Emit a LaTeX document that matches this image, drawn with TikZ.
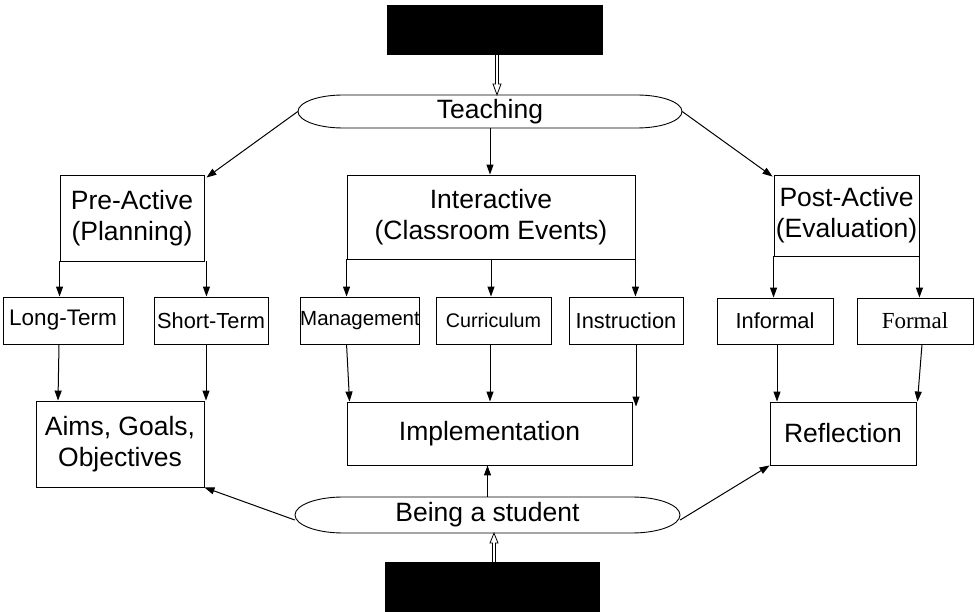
\documentclass[tikz,border=0pt]{standalone}
\usepackage{fontspec}
\setmainfont{Liberation Sans}
\newfontfamily\serifed{Liberation Serif}
\usetikzlibrary{arrows.meta,calc}
\begin{document}
\begin{tikzpicture}[x=1pt,y=-1pt,
  bx/.style={draw, line width=0.9pt, inner sep=0pt, align=center},
  big/.style={font=\fontsize{26.5}{31}\selectfont},
  small/.style={font=\fontsize{21.8}{25}\selectfont},
  arr/.style={line width=1pt, -{Triangle[length=10pt,width=7pt]}},
  ovalbox/.style={inner sep=0pt, minimum height=#1},
]
\useasboundingbox (0,0) rectangle (975,612);
\fill[white] (0,0) rectangle (975,612);

% black boxes
\node[fill=black, minimum width=216pt, minimum height=50pt, inner sep=0pt] (topbox) at (495,30) {};
\node[fill=black, minimum width=215pt, minimum height=54pt, inner sep=0pt] (botbox) at (492.5,589) {};

% Teaching oval
\node[ovalbox=33pt, minimum width=384pt, big] (teach) at (490,111.5) {Teaching};
\draw[line width=0.9pt] (343,95) -- (637,95) arc[start angle=90, end angle=-90, x radius=45pt, y radius=16.5pt]
  -- (343,128) arc[start angle=270, end angle=90, x radius=45pt, y radius=16.5pt] -- cycle;

% Being a student oval
\node[ovalbox=36pt, minimum width=385pt, big] (being) at (487.5,515) {Being a student};
\draw[line width=0.9pt] (343,497) -- (632,497) arc[start angle=90, end angle=-90, x radius=48pt, y radius=18pt]
  -- (343,533) arc[start angle=270, end angle=90, x radius=48pt, y radius=18pt] -- cycle;

% main boxes
\node[bx, big, minimum width=144pt, minimum height=86pt] (preact) at (132,218) {Pre-Active\\(Planning)};
\node[bx, big, minimum width=288pt, minimum height=84pt] (inter) at (491,217) {Interactive\\(Classroom Events)};
\node[bx, big, minimum width=145pt, minimum height=81pt] (postact) at (846.5,215.5) {Post-Active\\(Evaluation)};

% second row
\node[bx, font=\fontsize{22.5}{26}\selectfont, minimum width=120pt, minimum height=47pt] (longt) at (63,320.5) {Long-Term};
\node[bx, small, minimum width=114pt, minimum height=47pt] (shortt) at (211,320.5) {Short-Term};
\node[bx, font=\fontsize{20.5}{24}\selectfont, minimum width=116pt, minimum height=47pt] (mgmt) at (360,320.5) {Management};
\node[bx, font=\fontsize{19.7}{23}\selectfont, minimum width=115pt, minimum height=47pt] (curr) at (493.5,320.5) {Curriculum};
\node[bx, small, minimum width=114pt, minimum height=47pt] (instr) at (626,320.5) {Instruction};
\node[bx, small, minimum width=116pt, minimum height=46pt] (inform) at (775,321) {Informal};
\node[bx, font=\fontsize{23}{27}\selectfont\serifed, minimum width=116pt, minimum height=46pt] (formal) at (915,321) {Formal};

% third row
\node[bx, big, minimum width=168pt, minimum height=86pt] (aims) at (120,444) {Aims, Goals,\\Objectives};
\node[bx, big, minimum width=285pt, minimum height=63pt] (impl) at (489.5,433.5) {Implementation};
\node[bx, big, minimum width=146pt, minimum height=63pt] (refl) at (843,433.5) {Reflection};

% arrows from Teaching
\draw[arr] (teach.west) -- ([xshift=2pt,yshift=-3pt]preact.north east);
\draw[arr] (teach.east) -- ([xshift=-1pt,yshift=-2pt]postact.north west);
\draw[arr] (teach.south) -- (teach.south |- inter.north);

% Pre-Active children
\draw[arr] (preact.south west) -- (preact.south west |- longt.north);
\draw[arr] ([xshift=2pt]preact.south east) -- ([xshift=2pt]preact.south east |- shortt.north);
% Interactive children
\draw[arr] (inter.south west) -- (inter.south west |- mgmt.north);
\draw[arr] (inter.south) -- (inter.south |- curr.north);
\draw[arr] (inter.south east) -- (inter.south east |- instr.north);
% Post-Active children
\draw[arr] (postact.south west) -- (postact.south west |- inform.north);
\draw[arr] (postact.south east) -- (postact.south east |- formal.north);

% to Aims
\draw[arr] ([xshift=-4pt]longt.south) -- ([xshift=-5pt]longt.south |- aims.north);
\draw[arr] ([xshift=-5pt]shortt.south) -- ([xshift=-5pt]shortt.south |- aims.north);
% to Implementation
\draw[arr] (inter.south west |- mgmt.south) -- ([xshift=3pt]impl.north west);
\draw[arr] ([xshift=-3.5pt]curr.south) -- ([xshift=-3.5pt]curr.south |- impl.north);
\draw[arr] ([xshift=10pt]instr.south) -- ([xshift=10pt,yshift=-5pt]instr.south |- impl.north);
% to Reflection
\draw[arr] ([xshift=2pt]inform.south) -- ([xshift=2pt]inform.south |- refl.north);
\draw[arr] ([xshift=7pt]formal.south) -- ([xshift=1pt]refl.north east);

% from Being a student
\draw[arr] (being.north) -- (being.north |- impl.south);
\draw[arr] ([yshift=-5pt]being.west) -- (aims.south east);
\draw[arr] ([yshift=-5pt]being.east) -- (refl.south west);

% hollow arrows
\coordinate (ta) at (topbox.south);
\draw[line width=0.8pt, fill=white]
  ([xshift=0.5pt]ta) -- ([xshift=0.5pt]ta |- 0,84) -- ([xshift=-2pt]ta |- 0,84) -- ([xshift=2pt]ta |- teach.north)
  -- ([xshift=6pt]ta |- 0,84) -- ([xshift=3.5pt]ta |- 0,84) -- ([xshift=3.5pt]ta) ;
\coordinate (ba) at (botbox.north);
\draw[line width=0.8pt, fill=white]
  ([xshift=0pt]ba) -- ([xshift=0pt]ba |- 0,543) -- ([xshift=-2.5pt]ba |- 0,543) -- ([xshift=1.5pt]ba |- being.south)
  -- ([xshift=5.5pt]ba |- 0,543) -- ([xshift=3pt]ba |- 0,543) -- ([xshift=3pt]ba) ;
\end{tikzpicture}
\end{document}
